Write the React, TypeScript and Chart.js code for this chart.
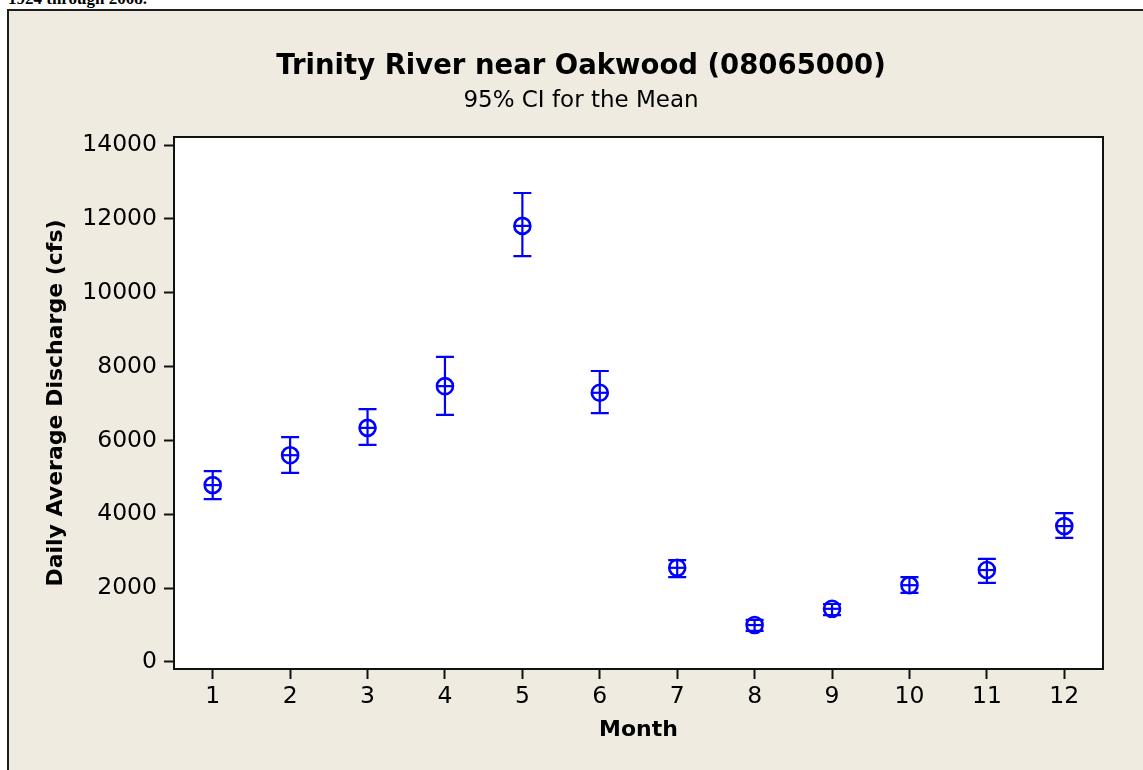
import React, { useEffect, useRef } from "react";
import { Chart, registerables } from "chart.js";

Chart.register(...registerables);

// ---- data ----
const MONTHS = [1, 2, 3, 4, 5, 6, 7, 8, 9, 10, 11, 12];
const MEANS = [4790, 5600, 6340, 7470, 11810, 7290, 2550, 1000, 1440, 2080, 2490, 3680];
const LOWER = [4410, 5120, 5880, 6690, 10990, 6740, 2300, 840, 1270, 1870, 2140, 3360];
const UPPER = [5170, 6090, 6850, 8260, 12700, 7880, 2760, 1140, 1570, 2300, 2790, 4030];
const Y_TICKS = [0, 2000, 4000, 6000, 8000, 10000, 12000, 14000];
const X_TICKS = [1, 2, 3, 4, 5, 6, 7, 8, 9, 10, 11, 12];

const TITLE = "Trinity River near Oakwood (08065000)";
const SUBTITLE = "95% CI for the Mean";
const X_TITLE = "Month";
const Y_TITLE = "Daily Average Discharge (cfs)";
const HEADER = "1924 through 2008.";

const BLUE = "#0000ff";
const BEIGE = "#EFEBE1";
const FONT = "DejaVu Sans";

const CANVAS_W = 1144;
const CANVAS_H = 759;

const backgroundPlugin = {
  id: "bgPlugin",
  beforeDraw(chart: any) {
    const { ctx, chartArea } = chart;
    ctx.save();
    ctx.fillStyle = BEIGE;
    ctx.fillRect(0, 0, chart.width, chart.height);
    ctx.fillStyle = "#ffffff";
    ctx.fillRect(chartArea.left, chartArea.top, chartArea.right - chartArea.left, chartArea.bottom - chartArea.top);
    ctx.restore();
  },
  afterDraw(chart: any) {
    const { ctx, chartArea } = chart;
    ctx.save();
    ctx.strokeStyle = "#111111";
    ctx.lineWidth = 2;
    ctx.strokeRect(chartArea.left, chartArea.top, chartArea.right - chartArea.left, chartArea.bottom - chartArea.top);
    ctx.restore();
  },
};

const errorBarPlugin = {
  id: "errorBars",
  beforeDatasetsDraw(chart: any) {
    const { ctx } = chart;
    const xs = chart.scales.x;
    const ys = chart.scales.y;
    ctx.save();
    ctx.strokeStyle = BLUE;
    ctx.lineWidth = 2.2;
    const cap = 9;
    MONTHS.forEach((m, i) => {
      const px = xs.getPixelForValue(m);
      const pLo = ys.getPixelForValue(LOWER[i]);
      const pHi = ys.getPixelForValue(UPPER[i]);
      ctx.beginPath();
      ctx.moveTo(px, pLo);
      ctx.lineTo(px, pHi);
      ctx.moveTo(px - cap, pLo);
      ctx.lineTo(px + cap, pLo);
      ctx.moveTo(px - cap, pHi);
      ctx.lineTo(px + cap, pHi);
      ctx.stroke();
    });
    ctx.restore();
  },
};

export default function App() {
  const ref = useRef<HTMLCanvasElement>(null);

  useEffect(() => {
    if (!ref.current) return;
    const points = MONTHS.map((m, i) => ({ x: m, y: MEANS[i] }));
    const chart = new Chart(ref.current, {
      type: "scatter",
      data: {
        datasets: [
          {
            data: points,
            pointStyle: "circle",
            pointRadius: 8,
            pointHoverRadius: 8,
            borderWidth: 2.6,
            borderColor: BLUE,
            backgroundColor: "rgba(0,0,0,0)",
          },
          {
            data: points,
            pointStyle: "line",
            pointRadius: 8,
            pointHoverRadius: 8,
            borderWidth: 2.2,
            borderColor: BLUE,
            backgroundColor: BLUE,
          },
        ],
      },
      options: {
        animation: false,
        responsive: false,
        events: [],
        layout: { padding: { left: 50, right: 50, top: 0, bottom: 0 } },
        plugins: {
          legend: { display: false },
          tooltip: { enabled: false },
          title: {
            display: true,
            text: TITLE,
            color: "#000",
            font: { family: FONT, size: 27.5, weight: "bold" },
            padding: { top: 39.5, bottom: 0 },
          },
          subtitle: {
            display: true,
            text: SUBTITLE,
            color: "#000",
            font: { family: FONT, size: 23, weight: "normal" },
            padding: { top: 3.7, bottom: 22.2 },
          },
        },
        scales: {
          x: {
            type: "linear",
            position: "bottom",
            min: 0.5,
            max: 12.5,
            afterBuildTicks: (scale: any) => {
              scale.ticks = X_TICKS.map((v) => ({ value: v }));
            },
            afterFit: (scale: any) => {
              scale.height = 101;
            },
            border: { display: false },
            grid: {
              display: true,
              drawOnChartArea: false,
              drawTicks: true,
              tickLength: 10,
              tickWidth: 2,
              tickColor: "#111",
            },
            ticks: {
              color: "#000",
              padding: 4,
              font: { family: FONT, size: 23.5 },
              callback: (v: any) => String(v),
              maxRotation: 0,
              autoSkip: false,
            },
            title: {
              display: true,
              text: X_TITLE,
              color: "#000",
              font: { family: FONT, size: 22, weight: "bold" },
              padding: { top: 0, bottom: 26.3 },
            },
          },
          y: {
            type: "linear",
            position: "left",
            min: -190,
            max: 14217,
            afterBuildTicks: (scale: any) => {
              scale.ticks = Y_TICKS.map((v) => ({ value: v }));
            },
            afterFit: (scale: any) => {
              scale.width = 115;
            },
            border: { display: false },
            grid: {
              display: true,
              drawOnChartArea: false,
              drawTicks: true,
              tickLength: 10,
              tickWidth: 2,
              tickColor: "#111",
            },
            ticks: {
              color: "#000",
              padding: 7,
              font: { family: FONT, size: 23.5 },
              callback: (v: any) => String(v),
              autoSkip: false,
            },
            title: {
              display: true,
              text: Y_TITLE,
              color: "#000",
              font: { family: FONT, size: 22, weight: "bold" },
              padding: { top: -15.7, bottom: 0 },
            },
          },
        },
      } as any,
      plugins: [backgroundPlugin, errorBarPlugin],
    });
    return () => chart.destroy();
  }, []);

  return (
    <div style={{ position: "fixed", left: 0, top: 0, width: "100vw", height: "100vh", overflow: "hidden", background: "#fff" }}>
      <div
        style={{
          position: "absolute",
          left: 8,
          top: -10,
          fontFamily: '"Liberation Serif", serif',
          fontWeight: "bold",
          fontSize: 17,
          lineHeight: "17px",
          whiteSpace: "nowrap",
          color: "#000",
        }}
      >
        {HEADER}
      </div>
      <div
        style={{
          position: "absolute",
          left: 7,
          top: 9,
          width: CANVAS_W + 6,
          height: CANVAS_H + 40,
          border: "2px solid #1e1e1e",
          background: BEIGE,
        }}
      >
        <canvas ref={ref} width={CANVAS_W} height={CANVAS_H} style={{ display: "block", width: CANVAS_W, height: CANVAS_H }} />
      </div>
    </div>
  );
}
